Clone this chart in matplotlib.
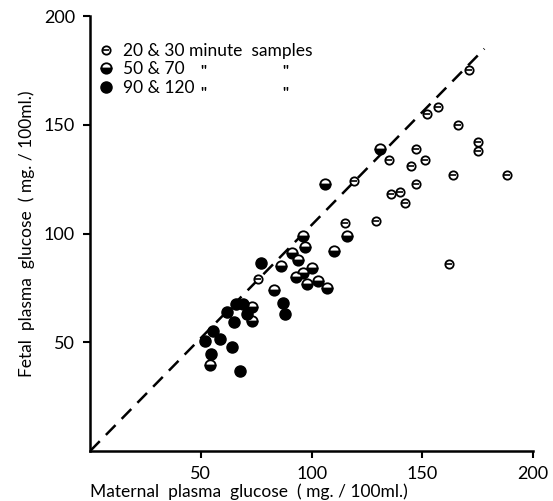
import numpy as np
import matplotlib
matplotlib.use("Agg")
import matplotlib.pyplot as plt
from matplotlib.lines import Line2D

plt.rcParams['font.family'] = ['Lato', 'DejaVu Sans']

# 20 & 30 minute samples (maternal, fetal) mg/100ml
m_20 = [171, 157, 152, 135, 119, 147, 151, 145, 166, 147, 136, 140, 142, 175, 175, 164, 188, 162, 129, 115, 76]
f_20 = [175, 158, 155, 134, 124, 139, 134, 131, 150, 123, 118, 119, 114, 142, 138, 127, 127, 86, 106, 105, 79]

# 50 & 70 minute samples
m_50 = [131, 106, 96, 97, 91, 94, 86, 93, 96, 100, 98, 103, 107, 83, 110, 116, 73, 73, 54]
f_50 = [139, 123, 99, 94, 91, 88, 85, 80, 82, 84, 77, 78, 75, 74, 92, 99, 66, 60, 39.5]

# 90 & 120 minute samples
m_90 = [52, 55.5, 58.5, 64, 54.5, 67.5, 77, 87, 88, 66, 69, 62, 71, 65]
f_90 = [50.5, 55, 51.5, 48, 44.5, 37, 86.5, 68, 63, 67.5, 67.5, 64, 63, 59.5]

line_x = [0, 178]
line_y = [0, 185]

ticks = [50, 100, 150, 200]

fig = plt.figure(figsize=(5.53, 5.01), dpi=100)
ax = fig.add_axes([0.163, 0.0998, 0.801, 0.868])

ax.plot(line_x, line_y, ls=(0, (5.5, 3.5)), c='black', lw=1.8, zorder=1)

# 20&30: open circle with a bar
ax.plot(m_20, f_20, ls='none', marker='o', ms=6, mfc='white', mec='black', mew=1.3, zorder=3)
ax.plot(m_20, f_20, ls='none', marker='_', ms=5, mec='black', mew=1.2, zorder=4)
# 50&70: half filled
ax.plot(m_50, f_50, ls='none', marker='o', ms=7.5, fillstyle='bottom', mfc='black',
        markerfacecoloralt='white', mec='black', mew=1.3, zorder=3)
# 90&120: solid
ax.plot(m_90, f_90, ls='none', marker='o', ms=8, mfc='black', mec='black', zorder=3)

ax.set_xlim(0, 200)
ax.set_ylim(0, 200)
ax.set_xticks(ticks)
ax.set_yticks(ticks)
ax.tick_params(direction='out', length=5, width=1.5, labelsize=13, pad=6)
for s in ['top', 'right']:
    ax.spines[s].set_visible(False)
for s in ['left', 'bottom']:
    ax.spines[s].set_linewidth(1.8)

ax.set_xlabel("Maternal  plasma  glucose  ( mg. / 100ml.)", fontsize=12.5, loc='left', labelpad=1)
ax.set_ylabel("Fetal  plasma  glucose  ( mg. / 100ml.)", fontsize=12.5, labelpad=6)

h1 = (Line2D([], [], ls='none', marker='o', ms=6, mfc='white', mec='black', mew=1.3),
      Line2D([], [], ls='none', marker='_', ms=5, mec='black', mew=1.2))
h2 = Line2D([], [], ls='none', marker='o', ms=7.5, fillstyle='bottom', mfc='black',
            markerfacecoloralt='white', mec='black', mew=1.3)
h3 = Line2D([], [], ls='none', marker='o', ms=8, mfc='black', mec='black')
ax.legend([h1, h2, h3], ["20 & 30 minute  samples", "50 & 70", "90 & 120"],
          loc='upper left', bbox_to_anchor=(0.0, 0.955), frameon=False,
          fontsize=12.5, handlelength=1.0, handletextpad=0.5, labelspacing=0.15,
          borderaxespad=0)
for yy in [0.872, 0.822]:
    ax.text(0.255, yy, '"', transform=ax.transAxes, fontsize=11, fontweight='bold',
            ha='center', va='center')
    ax.text(0.44, yy, '"', transform=ax.transAxes, fontsize=11, fontweight='bold',
            ha='center', va='center')

fig.savefig("out.png", dpi=100)
